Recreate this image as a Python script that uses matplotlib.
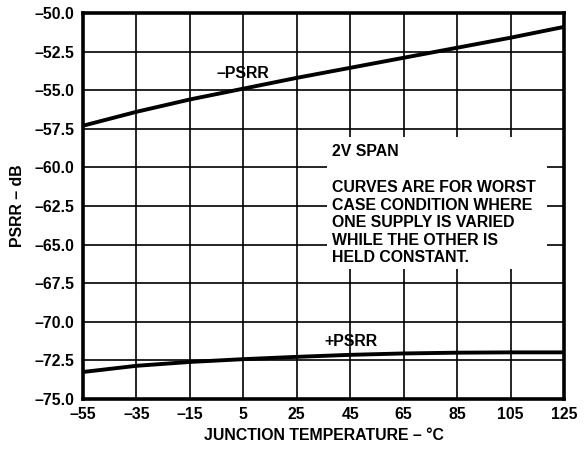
import numpy as np
import matplotlib.pyplot as plt
from matplotlib.patches import Rectangle

plt.rcParams['font.family'] = ['Liberation Sans', 'DejaVu Sans']
plt.rcParams['font.weight'] = 'bold'

temp = [-55, -35, -15, 5, 25, 45, 65, 85, 105, 125]
psrr_neg = [-57.3, -56.4, -55.6, -54.9, -54.2, -53.55, -52.9, -52.25, -51.6, -50.9]
psrr_pos = [-73.25, -72.85, -72.6, -72.42, -72.27, -72.14, -72.05, -72.0, -71.98, -71.98]

xticks = list(range(-55, 126, 20))
yticks = np.arange(-75.0, -49.9, 2.5)

note = ["CURVES ARE FOR WORST",
        "CASE CONDITION WHERE",
        "ONE SUPPLY IS VARIED",
        "WHILE THE OTHER IS",
        "HELD CONSTANT."]

FS = 11.4

def dash(v, fmt):
    return (fmt % v).replace('-', '\u2013')

fig = plt.figure(figsize=(5.85, 4.51), dpi=100)
ax = fig.add_axes([83 / 585, 1 - 399 / 451, 481 / 585, 386 / 451])

ax.set_xlim(-55, 125)
ax.set_ylim(-75, -50)
ax.set_xticks(xticks)
ax.set_yticks(yticks)
ax.set_xticklabels([dash(t, '%d') for t in xticks], fontsize=FS, fontweight='bold')
ax.set_yticklabels([dash(t, '%.1f') for t in yticks], fontsize=FS, fontweight='bold')
ax.tick_params(length=0, pad=6)
ax.grid(True, color='black', linewidth=1.2)
ax.set_axisbelow(True)
for s in ax.spines.values():
    s.set_linewidth(2.6)

# white patch behind the note so the grid stops around it
ax.add_patch(Rectangle((36.3, -66.58), 82.3, 8.55, facecolor='white',
                       edgecolor='none', zorder=1.5))

ax.plot(temp, psrr_neg, color='black', linewidth=2.8, zorder=3)
ax.plot(temp, psrr_pos, color='black', linewidth=2.8, zorder=3)

ax.text(5, -53.95, '\u2013PSRR', fontsize=FS, fontweight='bold', ha='center', va='center')
ax.text(45.3, -71.3, '+PSRR', fontsize=FS, fontweight='bold', ha='center', va='center')

ax.text(38.2, -59.0, '2V SPAN', fontsize=FS, fontweight='bold', va='center', zorder=4)
for i, line in enumerate(note):
    ax.text(38.2, -61.33 - i * 1.133, line, fontsize=FS, fontweight='bold',
            va='center', zorder=4)

ax.set_xlabel('JUNCTION TEMPERATURE \u2013 \u00b0C', fontsize=FS, fontweight='bold', labelpad=4)
ax.set_ylabel('PSRR \u2013 dB', fontsize=FS, fontweight='bold', labelpad=7)

fig.savefig('out.png', dpi=100)
